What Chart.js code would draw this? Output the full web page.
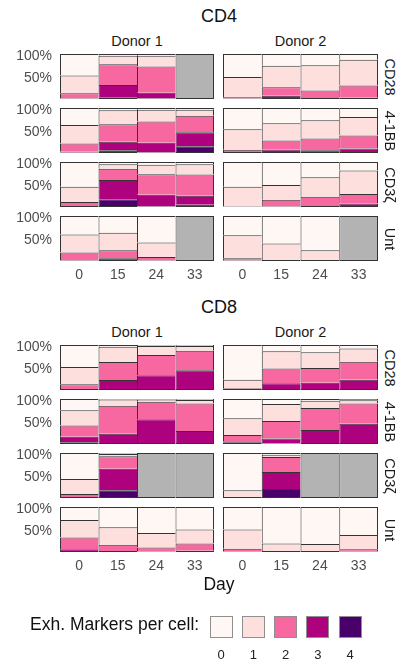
<!DOCTYPE html>
<html>
<head>
<meta charset="utf-8">
<script src="https://cdn.jsdelivr.net/npm/chart.js@4/dist/chart.umd.min.js"></script>
<style>
  html, body { margin: 0; padding: 0; background: #fff; }
  body { width: 409px; height: 660px; position: relative; overflow: hidden;
         font-family: "Liberation Sans", Arial, Helvetica, sans-serif; }
  canvas { position: absolute; }
  .txt { position: absolute; white-space: nowrap; line-height: 1;
         transform: translate(-50%, -50%); color: #1a1a1a; }
  .strip { transform: translate(-50%, -50%) rotate(90deg); }
  .key { position: absolute; box-sizing: border-box; border: 1px solid #8f8f8f; }
</style>
</head>
<body>
<script>
// Collection days (x categories) and exhaustion-marker counts (stack levels)
const days = ['0', '15', '24', '33'];
const levels = ['0', '1', '2', '3', '4'];
const levelColors = ['#fff7f3', '#fde0dd', '#f768a1', '#ae017e', '#49006a'];
const naColor = '#b3b3b3';
const yTicks = [0.5, 1];

// Share of cells carrying 0..4 exhaustion markers, one row per day; null = no sample
const CD4_CD28_D1 = [[0.48, 0.39, 0.12, 0.01, 0], [0.04, 0.19, 0.46, 0.27, 0.04], [0.04, 0.24, 0.58, 0.13, 0.01], null];
const CD4_CD28_D2 = [[0.51, 0.45, 0.03, 0.01, 0], [0.26, 0.48, 0.19, 0.05, 0.02], [0.25, 0.56, 0.17, 0.02, 0], [0.13, 0.57, 0.27, 0.03, 0]];
const CD4_41BB_D1 = [[0.38, 0.41, 0.18, 0.02, 0.01], [0.05, 0.31, 0.39, 0.19, 0.06], [0.04, 0.26, 0.47, 0.22, 0.01], [0.04, 0.13, 0.37, 0.31, 0.15]];
const CD4_41BB_D2 = [[0.47, 0.46, 0.05, 0.02, 0], [0.34, 0.38, 0.20, 0.06, 0.02], [0.27, 0.41, 0.26, 0.04, 0.02], [0.20, 0.41, 0.29, 0.08, 0.02]];
const CD4_CD3z_D1 = [[0.55, 0.34, 0.11, 0, 0], [0.05, 0.10, 0.25, 0.43, 0.17], [0.06, 0.21, 0.46, 0.26, 0.01], [0.05, 0.23, 0.47, 0.20, 0.05]];
const CD4_CD3z_D2 = [[0.55, 0.44, 0.01, 0, 0], [0.51, 0.33, 0.15, 0.01, 0], [0.34, 0.43, 0.21, 0.02, 0], [0.19, 0.52, 0.21, 0.06, 0.02]];
const CD4_Unt_D1 = [[0.41, 0.40, 0.18, 0.01, 0], [0.37, 0.39, 0.18, 0.06, 0], [0.59, 0.32, 0.08, 0.01, 0], null];
const CD4_Unt_D2 = [[0.43, 0.51, 0.05, 0.01, 0], [0.61, 0.39, 0, 0, 0], [0.76, 0.24, 0, 0, 0], null];

const CD8_CD28_D1 = [[0.49, 0.38, 0.11, 0.02, 0], [0.04, 0.34, 0.40, 0.22, 0], [0.02, 0.20, 0.45, 0.33, 0], [0.02, 0.11, 0.43, 0.44, 0]];
const CD8_CD28_D2 = [[0.77, 0.19, 0.02, 0.02, 0], [0.14, 0.38, 0.33, 0.15, 0], [0.16, 0.35, 0.33, 0.16, 0], [0.08, 0.29, 0.40, 0.23, 0]];
const CD8_41BB_D1 = [[0.25, 0.34, 0.25, 0.12, 0.04], [0.01, 0.14, 0.62, 0.23, 0], [0.01, 0.05, 0.39, 0.55, 0], [0.02, 0.08, 0.61, 0.29, 0]];
const CD8_41BB_D2 = [[0.43, 0.37, 0.14, 0.02, 0.04], [0.11, 0.38, 0.39, 0.11, 0.01], [0.04, 0.16, 0.49, 0.31, 0], [0.03, 0.07, 0.45, 0.45, 0]];
const CD8_CD3z_D1 = [[0.58, 0.33, 0.09, 0, 0], [0.02, 0.05, 0.28, 0.48, 0.17], null, null];
const CD8_CD3z_D2 = [[0.83, 0.17, 0, 0, 0], [0.04, 0.05, 0.33, 0.38, 0.20], null, null];
const CD8_Unt_D1 = [[0.29, 0.39, 0.26, 0.06, 0], [0.45, 0.39, 0.14, 0.02, 0], [0.58, 0.32, 0.09, 0.01, 0], [0.50, 0.31, 0.16, 0.03, 0]];
const CD8_Unt_D2 = [[0.50, 0.43, 0.06, 0.01, 0], [0.81, 0.19, 0, 0, 0], [0.82, 0.18, 0, 0, 0], [0.62, 0.32, 0.05, 0.01, 0]];

const constructs = ['CD28', '4-1BB', 'CD3ζ', 'Unt'];
const donors = ['Donor 1', 'Donor 2'];
const cellTypes = [
  { name: 'CD4', top: 54, panels: [[CD4_CD28_D1, CD4_CD28_D2], [CD4_41BB_D1, CD4_41BB_D2], [CD4_CD3z_D1, CD4_CD3z_D2], [CD4_Unt_D1, CD4_Unt_D2]] },
  { name: 'CD8', top: 345, panels: [[CD8_CD28_D1, CD8_CD28_D2], [CD8_41BB_D1, CD8_41BB_D2], [CD8_CD3z_D1, CD8_CD3z_D2], [CD8_Unt_D1, CD8_Unt_D2]] }
];

// ---- layout ----
const FONT = '"Liberation Sans", Arial, Helvetica, sans-serif';
const PANEL_H = 45, ROW_PITCH = 54, PAD = 20, X_AXIS_H = 24, Y_AXIS_W = 60;
const colX = [{ left: 0, width: 214 }, { left: 223, width: 155 }];
const plotLeft = [60, 223], plotRight = [214, 378];

function addText(str, x, y, size, extra) {
  const d = document.createElement('div');
  d.className = 'txt' + (extra && extra.cls ? ' ' + extra.cls : '');
  d.textContent = str;
  d.style.left = x + 'px';
  d.style.top = y + 'px';
  d.style.fontSize = size + 'px';
  if (extra && extra.color) d.style.color = extra.color;
  document.body.appendChild(d);
  return d;
}

// Outline each stacked segment once: top/left always, right on the last bar,
// bottom only on the lowest visible segment of a stack.
function segmentBorder(ctx) {
  const i = ctx.dataIndex;
  if (i === undefined) return 1;
  const ds = ctx.chart.data.datasets;
  let lowest = -1;
  for (let k = 0; k < ds.length; k++) { if (ds[k].data[i] > 0) { lowest = k; break; } }
  return { top: 1, left: 1, right: i === days.length - 1 ? 1 : 0, bottom: ctx.datasetIndex === lowest ? 1 : 0 };
}

function makePanel(rows, col, top, showX) {
  const showY = col === 0;
  const cv = document.createElement('canvas');
  const w = colX[col].width;
  const h = PAD + PANEL_H + (showX ? X_AXIS_H : PAD);
  cv.width = w; cv.height = h;
  cv.style.left = colX[col].left + 'px';
  cv.style.top = (top - PAD) + 'px';
  cv.style.width = w + 'px'; cv.style.height = h + 'px';
  document.body.appendChild(cv);

  const datasets = [4, 3, 2, 1, 0].map(lv => ({
    label: levels[lv],
    data: rows.map(r => (r ? r[lv] : null)),
    backgroundColor: levelColors[lv]
  }));
  datasets.push({ label: 'NA', data: rows.map(r => (r ? null : 1)), backgroundColor: naColor });

  new Chart(cv, {
    type: 'bar',
    data: { labels: days, datasets },
    options: {
      responsive: false,
      maintainAspectRatio: false,
      animation: false,
      events: [],
      layout: { padding: { top: PAD, bottom: showX ? 0 : PAD, left: 0, right: 0 } },
      datasets: {
        bar: {
          barPercentage: 1, categoryPercentage: 1,
          borderColor: '#333333', borderSkipped: false, inflateAmount: 0,
          borderWidth: segmentBorder
        }
      },
      plugins: { legend: { display: false }, tooltip: { enabled: false } },
      scales: {
        x: {
          stacked: true, display: showX,
          grid: { display: false, drawTicks: false }, border: { display: false },
          ticks: { color: '#4d4d4d', font: { family: FONT, size: 14 }, padding: 6, maxRotation: 0 },
          afterFit: s => { if (showX) s.height = X_AXIS_H; }
        },
        y: {
          stacked: true, min: 0, max: 1, display: showY,
          grid: { display: false, drawTicks: false }, border: { display: false },
          ticks: { color: '#4d4d4d', font: { family: FONT, size: 14 }, padding: 8, labelOffset: 2,
                   callback: v => Math.round(v * 100) + '%' },
          afterBuildTicks: s => { s.ticks = yTicks.map(v => ({ value: v })); },
          afterFit: s => { if (showY) s.width = Y_AXIS_W; }
        }
      }
    }
  });
}

const centerX = (plotLeft[0] + plotRight[1]) / 2;
cellTypes.forEach(ct => {
  addText(ct.name, centerX, ct.top - 38, 18, { color: '#111' });
  donors.forEach((d, c) => addText(d, (plotLeft[c] + plotRight[c]) / 2, ct.top - 13, 14.5));
  ct.panels.forEach((pair, r) => {
    const top = ct.top + r * ROW_PITCH;
    pair.forEach((rows, c) => makePanel(rows, c, top, r === constructs.length - 1));
    addText(constructs[r], 390, top + PANEL_H / 2, 14.5, { cls: 'strip' });
  });
});

addText('Day', centerX, 585, 17.5, { color: '#111' });

// legend
const lg = addText('Exh. Markers per cell:', 0, 625, 17.5, { color: '#111' });
lg.style.transform = 'translate(0, -50%)';
lg.style.left = '30px';
levels.forEach((lv, k) => {
  const x = 209.5 + k * 32.3;
  const b = document.createElement('div');
  b.className = 'key';
  b.style.left = x + 'px'; b.style.top = '615.5px';
  b.style.width = '23px'; b.style.height = '22px';
  b.style.background = levelColors[k];
  document.body.appendChild(b);
  addText(lv, x + 11.5, 653.5, 13, { color: '#222' });
});
</script>
</body>
</html>
